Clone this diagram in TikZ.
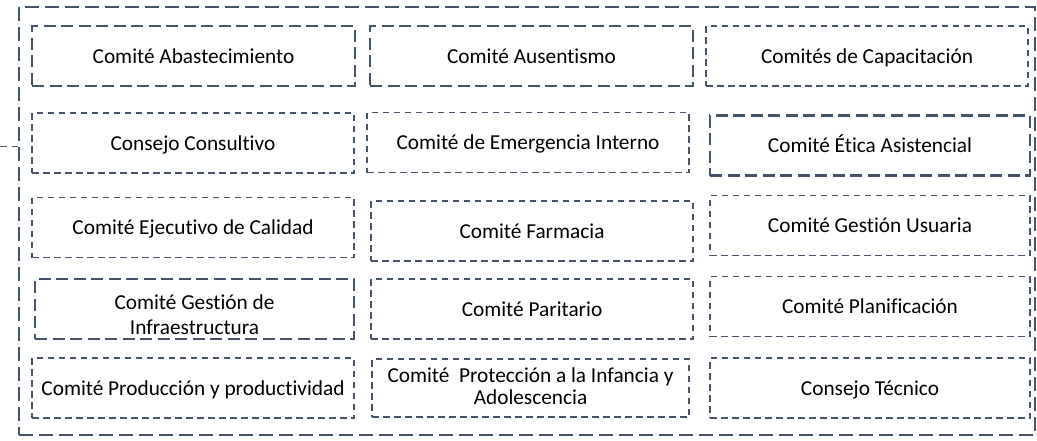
\documentclass[tikz,border=0pt]{standalone}
\usepackage{fontspec}
\setmainfont{Carlito}[Ligatures=NoCommon]
\usepackage{xcolor}
\definecolor{slate}{HTML}{44546A}

\begin{document}
\begin{tikzpicture}[x=1pt, y=-1pt,
  every node/.style={font=\fontsize{21.3}{25.5}\selectfont, align=center, inner sep=0pt,
    text height=18pt, text depth=4pt},
  thinbox/.style={draw=slate, line width=1.7pt, dash pattern=on 6.5pt off 4.5pt, minimum height=60pt},
  thickbox/.style={draw=slate, line width=2.6pt, dash pattern=on 12pt off 5.5pt, minimum height=60pt}]
  \useasboundingbox (0,0) rectangle (1037,440);
  % outer frame
  \node[draw=slate, line width=2pt, dash pattern=on 14pt off 6pt, minimum width=1016pt, minimum height=428pt] (comites) at (527,221) {};
  \coordinate (lead) at (0,146);
  \draw[slate, line width=1pt, dash pattern=on 7pt off 5pt] (lead) -- (lead -| comites.west);

  % first row
  \node[thickbox, minimum width=323pt] (abastecimiento) at (193.5,56) {Comité Abastecimiento};
  \node[thickbox, minimum width=323pt] (ausentismo) at (531.5,56) {Comité Ausentismo};
  \node[thinbox, minimum width=322pt] (capacitacion) at (867,56) {Comités de Capacitación};
  % second row
  \node[thinbox, minimum width=322pt] (consultivo) at (193,143) {Consejo Consultivo};
  \node[thinbox, minimum width=322pt] (emergencia) at (528,142.5) {Comité de Emergencia Interno};
  \node[thickbox, minimum width=320pt] (etica) at (870,145.5) {Comité Ética Asistencial};
  % third row
  \node[thinbox, minimum width=322pt] (calidad) at (193,227.5) {Comité Ejecutivo de Calidad};
  \node[thinbox, minimum width=322pt] (farmacia) at (532,231) {Comité Farmacia};
  \node[thinbox, minimum width=320pt] (usuaria) at (870,225.5) {Comité Gestión Usuaria};
  % fourth row
  \node[thickbox, minimum width=319pt, font=\fontsize{21.3}{25}\selectfont, text height=55pt] (infraestructura) at (194.5,309) {Comité Gestión de\\Infraestructura};
  \node[thinbox, minimum width=322pt] (paritario) at (532,309) {Comité Paritario};
  \node[thinbox, minimum width=320pt] (planificacion) at (870,306.5) {Comité Planificación};
  % last row
  \node[thinbox, minimum width=322pt] (produccion) at (193,388) {Comité Producción y productividad};
  \node[thinbox, minimum width=317pt, minimum height=58pt, font=\fontsize{21.3}{21.5}\selectfont, text height=36pt] (infancia) at (530.5,388) {Comité\ \ Protección a la Infancia y\\Adolescencia};
  \node[thinbox, minimum width=320pt] (tecnico) at (870,388) {Consejo Técnico};
\end{tikzpicture}
\end{document}
